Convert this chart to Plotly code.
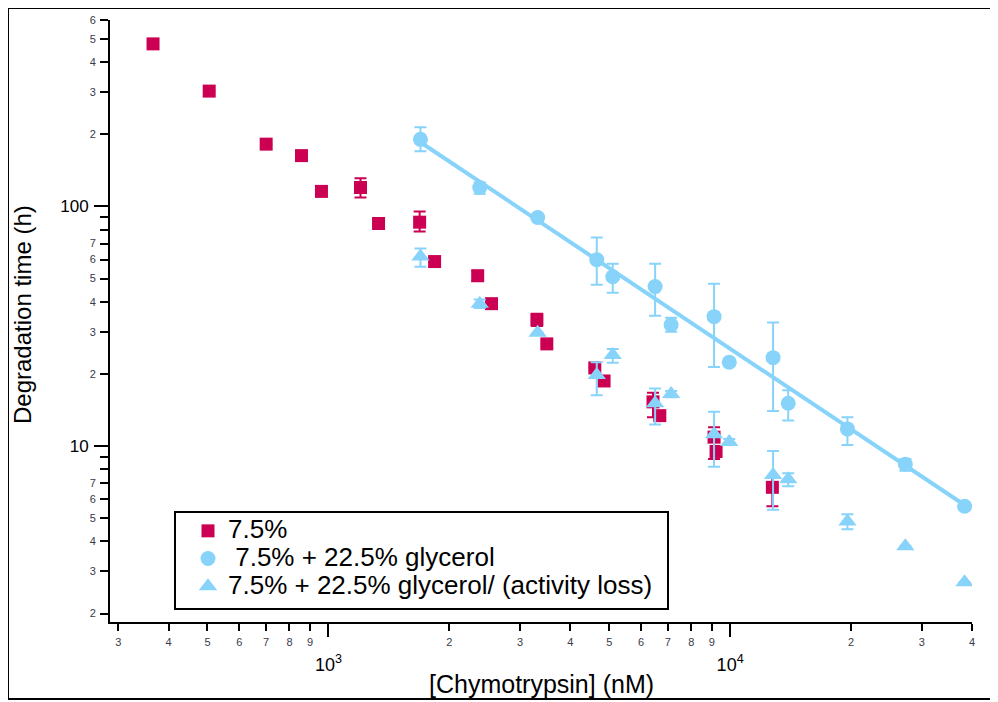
import numpy as np
import plotly.graph_objects as go

# ---- data: 7.5% (red squares)
sq_x = [366, 505, 700, 857, 961, 1202, 1333, 1687, 1838, 2353, 2547, 3304, 3497,
        4604, 4855, 6427, 6683, 9120, 9225, 12740]
sq_y = [477, 303, 182, 163, 115.6, 120, 84.9, 86, 58.9, 51.4, 39.3, 33.7, 26.7,
        21.2, 18.7, 15.3, 13.4, 10.9, 9.5, 6.73]
sq_up = [None, None, None, None, None, 11, None, 9.3, None, 2.5, None, 2.0, None,
         None, None, 1.4, None, 1.1, None, 0.71]
sq_dn = [None, None, None, None, None, 11, None, 7.4, None, 2.5, None, 2.0, None,
         None, None, 2.1, None, 2.06, None, 1.12]

# ---- data: 7.5% + 22.5% glycerol (blue circles)
ci_x = [1695, 2381, 3318, 4656, 5103, 6505, 7131, 9120, 9950, 12790, 13950,
        19590, 27300, 38330]
ci_y = [190.6, 120, 89.9, 60, 50.9, 46.3, 32.1, 34.7, 22.4, 23.4, 15.1, 11.8, 8.41, 5.61]
ci_up = [23.4, 6, None, 14.2, 6.8, 11.4, 2.2, 12.9, 0.8, 9.4, 2.0, 1.4, 0.43, None]
ci_dn = [20.6, 7, None, 12.9, 7.2, 11.3, 2.1, 13.3, 0.8, 9.4, 2.3, 1.7, 0.51, None]

# ---- data: 7.5% + 22.5% glycerol/ (activity loss) (blue triangles)
tr_x = [1695, 2381, 3318, 4656, 5103, 6505, 7131, 9120, 9950, 12790, 13950,
        19590, 27300, 38330]
tr_y = [61.8, 39.3, 29.7, 19.8, 24.0, 15.1, 16.5, 11.2, 10.4, 7.57, 7.28, 4.85, 3.82, 2.70]
tr_up = [4.9, 1.6, None, 2.6, 1.4, 2.3, 0.5, 2.7, 0.3, 1.97, 0.42, 0.35, None, None]
tr_dn = [5.7, 1.6, None, 3.5, 1.7, 2.8, 0.5, 3.0, 0.3, 2.14, 0.48, 0.35, None, None]

# ---- legend names
names = ["7.5%", " 7.5% + 22.5% glycerol", "7.5% + 22.5% glycerol/ (activity loss)"]

# ---- tick labels
x_minor_vals = [300, 400, 500, 600, 700, 800, 900,
                2000, 3000, 4000, 5000, 6000, 7000, 8000, 9000,
                20000, 30000, 40000]
x_minor_text = ["3", "4", "5", "6", "7", "8", "9",
                "2", "3", "4", "5", "6", "7", "8", "9",
                "2", "3", "4"]
x_major_vals = [1000, 10000]
x_major_text = ["10<sup>3</sup>", "10<sup>4</sup>"]
y_minor_vals = [2, 3, 4, 5, 6, 7, 20, 30, 40, 50, 60, 70, 200, 300, 400, 500, 600]
y_minor_text = ["2", "3", "4", "5", "6", "7", "2", "3", "4", "5", "6", "7",
                "2", "3", "4", "5", "6"]
y_unlabeled_vals = [8, 9, 80, 90]
y_major_vals = [10, 100]
y_major_text = ["10", "100"]

RED = "#CC0052"
BLUE = "#87D3FA"
FONT = "Liberation Sans, Arial, Helvetica, sans-serif"


def big(s):
    return "<span style='font-size:26px'>" + s.replace(" ", "&nbsp;") + "</span>"


# power-law fit for the glycerol series
coef = np.polyfit(np.log10(ci_x), np.log10(ci_y), 1)
fit_x = np.array([min(ci_x), max(ci_x)])
fit_y = 10 ** np.polyval(coef, np.log10(fit_x))

fig = go.Figure()

fig.add_trace(go.Scatter(
    x=sq_x, y=sq_y, mode="markers", name=big(names[0]),
    marker=dict(symbol="square", size=13, color=RED),
    error_y=dict(type="data", symmetric=False, array=sq_up, arrayminus=sq_dn,
                 color=RED, thickness=2, width=6),
))
fig.add_trace(go.Scatter(
    x=fit_x, y=fit_y, mode="lines", showlegend=False,
    line=dict(color=BLUE, width=4), hoverinfo="skip",
))
fig.add_trace(go.Scatter(
    x=ci_x, y=ci_y, mode="markers", name=big(names[1]),
    marker=dict(symbol="circle", size=15, color=BLUE),
    error_y=dict(type="data", symmetric=False, array=ci_up, arrayminus=ci_dn,
                 color=BLUE, thickness=2, width=6),
))
fig.add_trace(go.Scatter(
    x=tr_x, y=tr_y, mode="markers", name=big(names[2]),
    marker=dict(symbol="triangle-up", size=16, color=BLUE),
    error_y=dict(type="data", symmetric=False, array=tr_up, arrayminus=tr_dn,
                 color=BLUE, thickness=2, width=6),
))
# empty trace to bind the overlay axes
fig.add_trace(go.Scatter(x=[], y=[], xaxis="x2", yaxis="y2", showlegend=False))

xr = [np.log10(286), np.log10(40000)]
yr = [np.log10(1.845), np.log10(600)]
tickc = "#3a3a48"

# page has an 8px body margin: figure is drawn at page offset (8, 8)
W, H = 990, 694
L, T, R, B = 102, 12, 26, 80
PW, PH = W - L - R, H - T - B


def px(xp):
    return (xp - 8 - L) / PW


def py(yp):
    return (H - B - (yp - 8)) / PH


fig.update_layout(
    width=W, height=H,
    margin=dict(l=L, r=R, t=T, b=B, autoexpand=False),
    paper_bgcolor="white", plot_bgcolor="white",
    font=dict(family=FONT, color="black"),
    showlegend=True,
    legend=dict(
        x=px(188), y=py(512), xanchor="left", yanchor="top",
        borderwidth=0, bgcolor="rgba(0,0,0,0)",
        font=dict(size=19, family=FONT, color="black"),
        tracegroupgap=0,
    ),
    xaxis=dict(
        type="log", range=xr, showgrid=False, zeroline=False, automargin=False,
        showline=True, linecolor="black", linewidth=2,
        ticks="outside", ticklen=7, tickwidth=2, tickcolor="black",
        tickmode="array", tickvals=x_minor_vals, ticktext=x_minor_text,
        tickfont=dict(size=11, color=tickc), ticklabelstandoff=2,
    ),
    xaxis2=dict(
        type="log", range=xr, overlaying="x", anchor="y", side="bottom",
        showgrid=False, zeroline=False, showline=False, automargin=False,
        ticks="outside", ticklen=14, tickwidth=2, tickcolor="black",
        tickmode="array", tickvals=x_major_vals, ticktext=x_major_text,
        tickfont=dict(size=18, color="black"), ticklabelstandoff=12,
    ),
    yaxis=dict(
        type="log", range=yr, showgrid=False, zeroline=False, automargin=False,
        showline=True, linecolor="black", linewidth=2,
        ticks="outside", ticklen=8, tickwidth=2, tickcolor="black",
        tickmode="array", tickvals=y_minor_vals, ticktext=y_minor_text,
        tickfont=dict(size=11, color=tickc), ticklabelstandoff=2,
        minor=dict(tickmode="array", tickvals=y_unlabeled_vals, ticks="outside",
                   ticklen=8, tickwidth=2, tickcolor="black", showgrid=False),
    ),
    yaxis2=dict(
        type="log", range=yr, overlaying="y", anchor="x", side="left",
        showgrid=False, zeroline=False, showline=False, automargin=False,
        ticks="outside", ticklen=15, tickwidth=2, tickcolor="black",
        tickmode="array", tickvals=y_major_vals, ticktext=y_major_text,
        tickfont=dict(size=17, color="black"), ticklabelstandoff=2,
    ),
    annotations=[
        dict(text="[Chymotrypsin] (nM)", xref="paper", yref="paper",
             x=0.5, y=py(684), xanchor="center", yanchor="middle",
             showarrow=False, font=dict(size=25, family=FONT, color="black")),
        dict(text="Degradation time (h)", xref="paper", yref="paper",
             x=px(22), y=py(315), xanchor="center", yanchor="middle",
             textangle=-90, showarrow=False,
             font=dict(size=24, family=FONT, color="black")),
    ],
    shapes=[
        dict(type="rect", xref="paper", yref="paper",
             x0=(0 - L) / PW, x1=(W + 10 - L) / PW,
             y0=(H - B - (699 - 8)) / PH, y1=(H - B - 0) / PH,
             line=dict(color="black", width=2), layer="below"),
        dict(type="rect", xref="paper", yref="paper",
             x0=px(175), x1=px(668), y0=py(609), y1=py(512),
             line=dict(color="black", width=2), fillcolor="white", layer="above"),
    ],
)

fig.write_html("out.html")
